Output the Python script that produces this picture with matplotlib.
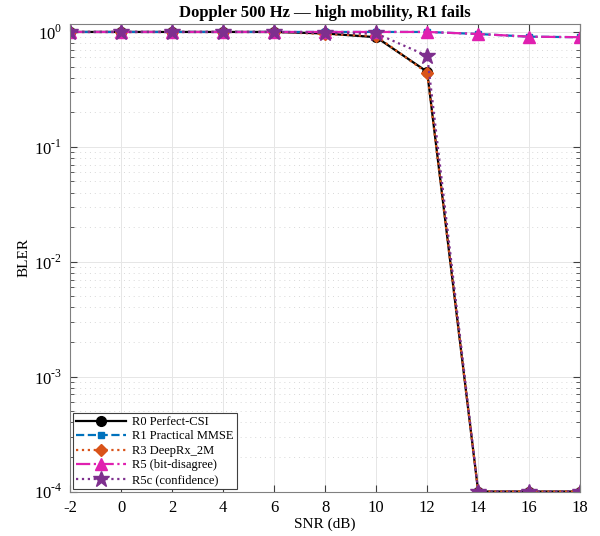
import numpy as np
import matplotlib
matplotlib.use('Agg')
import matplotlib.pyplot as plt
from matplotlib.ticker import LogLocator, NullFormatter

plt.rcParams['font.family'] = ['Liberation Serif', 'DejaVu Serif']
plt.rcParams['mathtext.fontset'] = 'custom'
plt.rcParams['mathtext.rm'] = 'Liberation Serif'

snr = [-2, 0, 2, 4, 6, 8, 10, 12, 14, 16, 18]
r0_perfect = [1.0, 1.0, 1.0, 1.0, 1.0, 0.97, 0.90, 0.45, 1e-4, 1e-4, 1e-4]
r1_mmse = [1.0, 1.0, 1.0, 1.0, 1.0, 1.0, 1.0, 1.0, 0.96, 0.91, 0.90]
r3_deeprx = [1.0, 1.0, 1.0, 1.0, 1.0, 0.96, 0.92, 0.44, 1e-4, 1e-4, 1e-4]
r5_bit = [1.0, 1.0, 1.0, 1.0, 1.0, 1.0, 1.0, 1.0, 0.96, 0.91, 0.90]
r5c_conf = [1.0, 1.0, 1.0, 1.0, 1.0, 0.98, 0.97, 0.62, 1e-4, 1e-4, 1e-4]

fig = plt.figure(figsize=(6, 5.36), dpi=100)
ax = fig.add_axes([0.117, 0.083, 0.85, 0.872])

ax.plot(snr, r0_perfect, color='black', linestyle='-', linewidth=1.6,
        marker='o', markersize=7, label='R0 Perfect-CSI')
ax.plot(snr, r1_mmse, color='#0072BD', linestyle='--', linewidth=1.6,
        marker='s', markersize=5, label='R1 Practical MMSE')
ax.plot(snr, r3_deeprx, color='#D95319', linestyle=':', linewidth=1.6,
        marker='D', markersize=6.5, label='R3 DeepRx_2M')
ax.plot(snr, r5_bit, color='#E020B0', linestyle='-.', linewidth=1.6,
        marker='^', markersize=9, label='R5 (bit-disagree)')
ax.plot(snr, r5c_conf, color='#7E2F8E', linestyle=':', linewidth=1.6,
        marker='*', markersize=12, label='R5c (confidence)')

ax.set_yscale('log')
ax.set_xlim(-2, 18)
ax.set_ylim(1e-4, 1.17)
ax.set_xticks(range(-2, 19, 2))
ax.set_xticklabels([str(v) for v in range(-2, 19, 2)])
ax.set_yticks([1e-4, 1e-3, 1e-2, 1e-1, 1e0])
ax.set_yticklabels([r'$10^{\text{-4}}$', r'$10^{\text{-3}}$', r'$10^{\text{-2}}$',
                    r'$10^{\text{-1}}$', r'$10^{0}$'])
ax.yaxis.set_minor_locator(LogLocator(base=10, subs=np.arange(2, 10), numticks=20))
ax.yaxis.set_minor_formatter(NullFormatter())

ax.grid(True, which='major', color='#e6e6e6', linewidth=0.7)
ax.grid(True, which='minor', axis='y', color='#d8d8d8', linestyle=(0, (1, 4)), linewidth=0.7)
ax.xaxis.set_minor_locator(plt.NullLocator())
ax.tick_params(axis='both', which='both', direction='in', top=True, right=True,
               labelsize=12, color='#404040')
ax.tick_params(which='major', length=5, pad=6)
ax.tick_params(which='minor', length=3)
for s in ax.spines.values():
    s.set_color('#808080')

ax.set_xlabel('SNR (dB)', fontsize=11, labelpad=1)
ax.set_ylabel('BLER', fontsize=11, labelpad=2)
ax.set_title('Doppler 500 Hz — high mobility, R1 fails', fontsize=12,
             fontweight='bold', pad=5)

leg = ax.legend(loc='lower left', fontsize=9, fancybox=False, framealpha=1,
                edgecolor='#404040', borderaxespad=0.2, handlelength=4,
                labelspacing=0.2, borderpad=0.25, handletextpad=0.5)
leg.get_frame().set_linewidth(0.8)

fig.savefig('out.png', dpi=100)
